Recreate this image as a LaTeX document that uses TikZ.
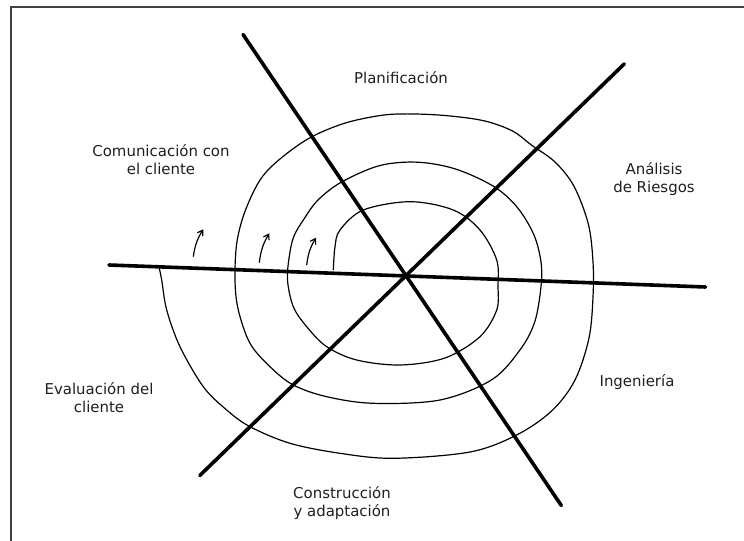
\documentclass[tikz,border=0pt]{standalone}
\usepackage{fontspec}
\setmainfont{DejaVu Sans}
\usetikzlibrary{arrows.meta}
\begin{document}
\begin{tikzpicture}[x=1bp,y=-1bp,
  axis/.style={line width=3.6bp, line cap=round},
  spiral/.style={line width=1.2bp},
  turn/.style={line width=1.2bp, -{Straight Barb[length=5bp,width=6.5bp]}},
  phase/.style={align=center, text=black!88, font=\fontsize{15}{18}\selectfont, inner sep=0pt}]
\useasboundingbox (0,0) rectangle (744,541);
\fill[white] (0,0) rectangle (744,541);
% frame (top and left edges)
\draw[line width=2bp, black!75] (744,7) -- (11,7) -- (11,541);

% the three axes through the centre
\coordinate (a1) at (243,34.5);   \coordinate (b1) at (561.3,505.5);
\coordinate (a2) at (624.4,63.8); \coordinate (b2) at (199.8,475.5);
\coordinate (a3) at (109,265);    \coordinate (b3) at (705.6,287);
\draw[axis] (a1) -- (b1);
\draw[axis] (a2) -- (b2);
\draw[axis] (a3) -- (b3);

% the spiral, from the inside out
\draw[spiral] plot[smooth, tension=0.55] coordinates {
 (333.3,270) (335,246.7) (340,230) (363.3,210) (410,201.7) (453.3,210)
 (480,230) (496.7,260) (498,286.7) (496.7,310) (480,336.7) (445,358)
 (400,365) (356.7,360) (326.7,346.7) (306.7,326.7) (293.3,306.7) (287.5,280)
 (289.5,255) (294,236) (304,219) (318,200) (341.6,182) (379.6,165.6) (417.6,162.2)
 (455.5,169) (493.5,186.3) (517,207) (533.8,234.6) (541,262) (541,286.4)
 (535,321) (521,348.5) (492,379.6) (440,400) (373.3,403.3)
 (326.7,396.7) (293.3,385) (270,366.7) (250,343.3) (238.3,310) (235,280)
 (237,241.5) (246.7,207) (265.7,172.5) (303.7,141.5) (341.6,124.2)
 (379.6,115.6) (408,113.9) (446,115.6) (484,120.8) (512.5,131) (531.4,145)
 (555,162) (574,186.3) (588.4,224.3) (593,262) (593,296.8) (589,338)
 (575,380) (552,410.6) (517,434.8) (470,452) (393.3,458.3) (340,453.3)
 (290,443.3) (250,426.7) (226.7,410) (203.3,386.7) (180,346.7) (166.7,310)
 (161.7,280) (159,267)};

% direction arrows
\coordinate (s1) at (193.3,256.7); \coordinate (e1) at (203.3,229.3);
\coordinate (s2) at (259.3,262.7); \coordinate (e2) at (269.3,233.3);
\coordinate (s3) at (306.7,265);   \coordinate (e3) at (316,237.7);
\draw[turn] (s1) to[bend left=12] (e1);
\draw[turn] (s2) to[bend left=12] (e2);
\draw[turn] (s3) to[bend left=12] (e3);

% phase labels
\node[phase] (plan) at (401,78) {Planificación};
\node[phase] (com) at (161,160) {Comunicación con\\el cliente};
\node[phase] (risk) at (654,179) {Análisis\\de Riesgos};
\node[phase] (ing) at (637,382) {Ingeniería};
\node[phase] (eval) at (99,398) {Evaluación del\\cliente};
\node[phase] (cons) at (342,503) {Construcción\\y adaptación};
\end{tikzpicture}
\end{document}
